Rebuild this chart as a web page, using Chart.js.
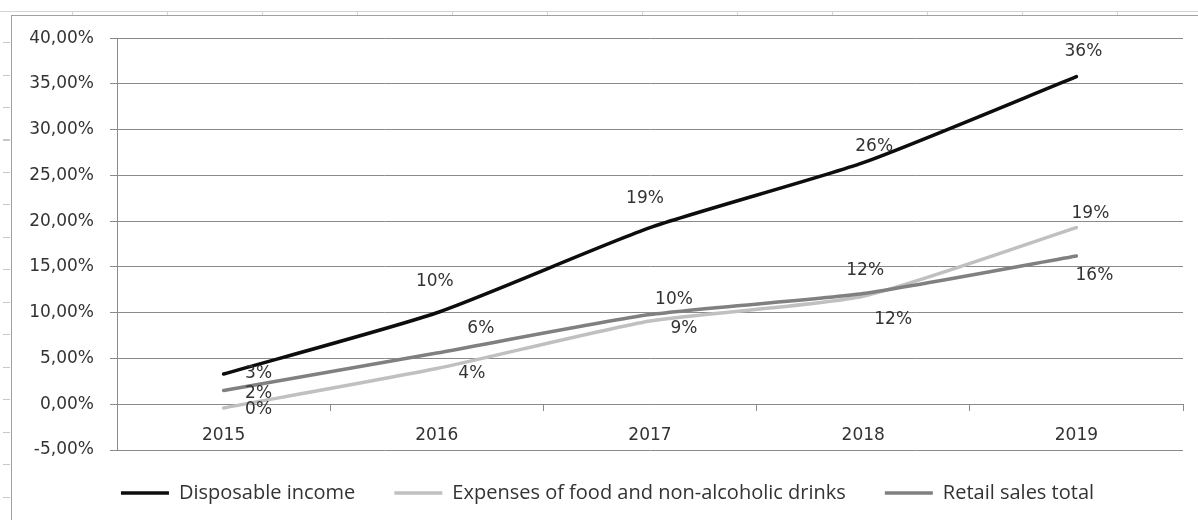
<!DOCTYPE html>
<html lang="en">
<head>
    <meta charset="UTF-8">
    <title>Disposable income, food expenses and retail sales</title>
    <style>
        html, body {
            margin: 0;
            padding: 0;
            background: #ffffff;
            overflow: hidden;
        }
        body {
            width: 1198px;
            height: 520px;
            position: relative;
        }
        /* spreadsheet cell lines around the chart object */
        .sheet-top {
            position: absolute;
            left: 0;
            top: 11px;
            width: 1198px;
            height: 4px;
            border-top: 1px solid #d4d4d4;
            background: repeating-linear-gradient(90deg, transparent 0 72px, #d4d4d4 72px 73px, transparent 73px 95px);
        }
        .sheet-left {
            position: absolute;
            left: 3px;
            top: 42px;
            width: 7px;
            height: 478px;
            background: repeating-linear-gradient(180deg, #c8c8c8 0 1px, transparent 1px 32.5px);
        }
        .chart-box {
            position: absolute;
            left: 11px;
            top: 15px;
            width: 1200px;
            height: 520px;
            border-left: 1px solid #a0a0a0;
            border-top: 1px solid #a0a0a0;
            background: #ffffff;
        }
        .chart-container {
            position: absolute;
            left: 0;
            top: -4px;
            width: 1186px;
            height: 508px;
        }
    </style>
</head>
<body>

<div class="sheet-top"></div>
<div class="sheet-left"></div>
<div class="chart-box">
    <div class="chart-container">
        <canvas id="growthChart"></canvas>
    </div>
</div>

<script src="https://cdn.jsdelivr.net/npm/chart.js"></script>

<script>
    // values, in percent
    const years = ['2015', '2016', '2017', '2018', '2019'];
    const disposableIncome = [3.3, 10.0, 19.3, 26.4, 35.8];
    const foodExpenses = [-0.4, 3.9, 9.1, 11.8, 19.3];
    const retailSales = [1.5, 5.6, 9.8, 12.1, 16.2];
    const seriesNames = ['Disposable income', 'Expenses of food and non-alcoholic drinks', 'Retail sales total'];
    const yTicks = [-5, 0, 5, 10, 15, 20, 25, 30, 35, 40];

    // where each data label sits relative to its point (px), like the original
    const labelOffsets = [
        [[35, 0], [-2, -31], [-5, -29], [11, -16], [7, -25]],
        [[35, 2], [35, 5], [34, 8], [30, 23], [14, -14]],
        [[35, 3], [44, -24], [24, -15], [2, -23], [18, 20]]
    ];

    const gridGray = '#8a8a8a';
    const textGray = '#333333';
    const tickFont = { family: 'DejaVu Sans', size: 17 };

    const dataLabels = {
        id: 'dataLabels',
        afterDatasetsDraw(chart) {
            const ctx = chart.ctx;
            ctx.save();
            ctx.font = '17px "DejaVu Sans"';
            ctx.fillStyle = textGray;
            ctx.textAlign = 'center';
            ctx.textBaseline = 'middle';
            chart.data.datasets.forEach((ds, i) => {
                const meta = chart.getDatasetMeta(i);
                meta.data.forEach((pt, j) => {
                    const off = labelOffsets[i][j];
                    const txt = Math.round(ds.data[j]) + '%';
                    ctx.fillText(txt, pt.x + off[0], pt.y + off[1]);
                });
            });
            ctx.restore();
        }
    };

    // the legend sits a bit higher and further right than Chart.js puts it
    const legendNudge = {
        id: 'legendNudge',
        afterLayout(chart) {
            const lg = chart.legend;
            if (!lg) return;
            lg.top -= 6;
            lg.bottom -= 6;
            lg.left += 10;
            lg.right += 10;
        }
    };

    function makeSeries(label, values, color, order) {
        return {
            label: label,
            data: values,
            borderColor: color,
            backgroundColor: color,
            borderWidth: 3.5,
            pointRadius: 0,
            pointHoverRadius: 0,
            tension: 0.2,
            order: order,
            borderCapStyle: 'round'
        };
    }

    new Chart(document.getElementById('growthChart'), {
        type: 'line',
        data: {
            labels: years,
            datasets: [
                makeSeries(seriesNames[0], disposableIncome, '#0d0d0d', 3),
                makeSeries(seriesNames[1], foodExpenses, '#c0c0c0', 2),
                makeSeries(seriesNames[2], retailSales, '#808080', 1)
            ]
        },
        options: {
            responsive: true,
            maintainAspectRatio: false,
            animation: false,
            layout: {
                padding: { top: 18, right: 15, left: 0, bottom: 1 }
            },
            plugins: {
                tooltip: { enabled: false },
                legend: {
                    position: 'bottom',
                    labels: {
                        usePointStyle: true,
                        pointStyle: 'line',
                        pointStyleWidth: 48,
                        padding: 39,
                        color: textGray,
                        font: { family: 'Open Sans', size: 20 },
                        sort: (a, b) => a.datasetIndex - b.datasetIndex
                    }
                }
            },
            scales: {
                x: {
                    position: { y: 0 },
                    offset: true,
                    grid: {
                        display: true,
                        drawOnChartArea: false,
                        drawTicks: true,
                        tickLength: 6,
                        offset: true,
                        color: gridGray
                    },
                    border: { display: true, color: gridGray, width: 1 },
                    ticks: {
                        color: textGray,
                        font: tickFont,
                        padding: 15,
                        maxRotation: 0
                    }
                },
                y: {
                    min: -5,
                    max: 40,
                    afterFit(scale) { scale.width = 105; },
                    afterBuildTicks(scale) { scale.ticks = yTicks.map(v => ({ value: v })); },
                    grid: {
                        color: gridGray,
                        lineWidth: 1,
                        tickLength: 7,
                        drawTicks: true
                    },
                    border: { display: true, color: gridGray, width: 1 },
                    ticks: {
                        color: textGray,
                        font: tickFont,
                        padding: 16,
                        callback: v => v.toFixed(2).replace('.', ',') + '%'
                    }
                }
            }
        },
        plugins: [dataLabels, legendNudge]
    });
</script>

</body>
</html>
